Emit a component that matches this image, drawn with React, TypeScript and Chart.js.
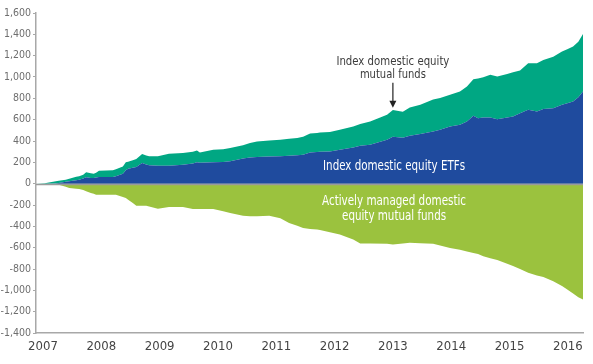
import React, { useEffect, useRef } from "react";
import { Chart, registerables } from "chart.js";

Chart.register(...registerables);

// Decimal-year positions of the readings
const dates = [
  2006.88, 2007.03, 2007.22, 2007.27, 2007.39, 2007.45, 2007.57, 2007.62, 2007.69, 2007.74,
  2007.82, 2007.87, 2007.91, 2007.96, 2008.2, 2008.25, 2008.37, 2008.42, 2008.46, 2008.54,
  2008.6, 2008.7, 2008.77, 2008.82, 2008.97, 2009.16, 2009.4, 2009.57, 2009.64, 2009.69,
  2009.92, 2010.09, 2010.21, 2010.43, 2010.55, 2010.67, 2010.88, 2011.07, 2011.22, 2011.36,
  2011.46, 2011.58, 2011.7, 2011.75, 2011.92, 2012.09, 2012.32, 2012.44, 2012.61, 2012.9,
  2013.0, 2013.17, 2013.29, 2013.47, 2013.69, 2013.81, 2013.98, 2014.15, 2014.27, 2014.38,
  2014.46, 2014.55, 2014.67, 2014.79, 2014.96, 2015.06, 2015.18, 2015.32, 2015.47, 2015.58,
  2015.75, 2015.9, 2015.99, 2016.09, 2016.18, 2016.26,
];

// Index domestic equity ETFs (cumulative flows, $ billions)
const etfFlows = [
  0, 0, 2, 6, 18, 22, 33, 37, 48, 59,
  54, 53, 58, 62, 62, 70, 94, 125, 140, 150,
  156, 193, 180, 172, 168, 168, 178, 190, 200, 196,
  200, 204, 209, 235, 246, 250, 254, 256, 262, 266,
  271, 293, 297, 300, 302, 318, 340, 355, 365, 411,
  440, 430, 450, 465, 490, 505, 536, 552, 583, 636,
  614, 620, 620, 605, 620, 630, 660, 692, 676, 700,
  708, 739, 755, 770, 810, 864,
];

// Index domestic equity mutual funds (cumulative flows, $ billions)
const indexMfFlows = [
  0, 5, 20, 21, 19, 23, 32, 33, 36, 47,
  43, 41, 45, 60, 63, 65, 68, 75, 65, 70,
  75, 85, 85, 84, 90, 113, 109, 110, 112, 97,
  118, 118, 125, 125, 135, 146, 151, 156, 158, 161,
  169, 177, 179, 180, 183, 187, 196, 205, 218, 234,
  250, 244, 265, 274, 300, 297, 297, 312, 327, 343,
  371, 378, 400, 399, 409, 415, 400, 437, 453, 460,
  483, 499, 505, 515, 521, 539,
];

// Actively managed domestic equity mutual funds (cumulative flows, $ billions)
const activeFlows = [
  0, 0, 0, -9, -30, -40, -48, -50, -60, -72,
  -87, -95, -103, -103, -103, -103, -125, -134, -150, -181,
  -206, -206, -206, -215, -234, -218, -218, -237, -237, -237,
  -237, -259, -275, -300, -306, -305, -300, -325, -368, -395,
  -415, -425, -430, -435, -455, -477, -524, -561, -562, -564,
  -570, -560, -555, -558, -564, -580, -602, -620, -637, -649,
  -660, -680, -700, -715, -750, -773, -800, -835, -860, -875,
  -914, -960, -992, -1030, -1065, -1085,
];

const yearTicks = [2007, 2008, 2009, 2010, 2011, 2012, 2013, 2014, 2015, 2016];

const FONT = "'Liberation Sans Narrow', 'DejaVu Sans Condensed', 'Open Sans', sans-serif";

const toPoints = (vals: number[]) => vals.map((v, i) => ({ x: dates[i], y: v }));

const annotationPlugin = {
  id: "annotations",
  afterDatasetsDraw(chart: any) {
    const { ctx, chartArea, scales } = chart;
    const xs = scales.x;
    const ys = scales.y;
    ctx.save();
    // zero line
    const y0 = Math.round(ys.getPixelForValue(0)) + 0.5;
    ctx.strokeStyle = "#9a9a9a";
    ctx.lineWidth = 1.5;
    ctx.beginPath();
    ctx.moveTo(chartArea.left, y0);
    ctx.lineTo(chartArea.right, y0);
    ctx.stroke();

    ctx.textAlign = "center";
    ctx.textBaseline = "middle";
    // Index MF label + arrow
    const ax = xs.getPixelForValue(2013.0);
    ctx.fillStyle = "#3c3c3c";
    ctx.font = `13px ${FONT}`;
    ctx.fillText("Index domestic equity", ax, ys.getPixelForValue(1141), 113);
    ctx.fillText("mutual funds", ax, ys.getPixelForValue(1020), 66);
    const aTop = ys.getPixelForValue(945);
    const aBot = ys.getPixelForValue(711);
    ctx.strokeStyle = "#222";
    ctx.lineWidth = 1.2;
    ctx.beginPath();
    ctx.moveTo(ax, aTop);
    ctx.lineTo(ax, aBot - 5);
    ctx.stroke();
    ctx.fillStyle = "#222";
    ctx.beginPath();
    ctx.moveTo(ax - 3.5, aBot - 7);
    ctx.lineTo(ax + 3.5, aBot - 7);
    ctx.lineTo(ax, aBot);
    ctx.closePath();
    ctx.fill();

    // White in-area labels
    const cx = xs.getPixelForValue(2013.02);
    ctx.fillStyle = "#ffffff";
    ctx.font = `500 14px ${FONT}`;
    ctx.fillText("Index domestic equity ETFs", cx, ys.getPixelForValue(159), 142);
    ctx.fillText("Actively managed domestic", cx, ys.getPixelForValue(-168), 144);
    ctx.fillText("equity mutual funds", cx, ys.getPixelForValue(-309), 104);
    ctx.restore();
  },
};

export default function App() {
  const ref = useRef<HTMLCanvasElement>(null);

  useEffect(() => {
    const canvas = ref.current;
    if (!canvas) return;
    const chart = new Chart(canvas, {
      type: "line",
      data: {
        datasets: [
          {
            label: "Index domestic equity ETFs",
            data: toPoints(etfFlows),
            backgroundColor: "#1f4b9e",
            borderWidth: 0,
            pointRadius: 0,
            fill: "origin",
            stack: "pos",
          },
          {
            label: "Index domestic equity mutual funds",
            data: toPoints(indexMfFlows),
            backgroundColor: "#00a783",
            borderWidth: 0,
            pointRadius: 0,
            fill: "-1",
            stack: "pos",
          },
          {
            label: "Actively managed domestic equity mutual funds",
            data: toPoints(activeFlows),
            backgroundColor: "#9bc23e",
            borderWidth: 0,
            pointRadius: 0,
            fill: "origin",
            stack: "neg",
          },
        ],
      },
      options: {
        responsive: false,
        animation: false,
        layout: { padding: { top: 13, right: 10, left: 0, bottom: 0 } },
        plugins: {
          legend: { display: false },
          tooltip: { enabled: false },
        },
        scales: {
          x: {
            type: "linear",
            min: 2006.88,
            max: 2016.26,
            afterBuildTicks: (axis: any) => {
              axis.ticks = yearTicks.map((v) => ({ value: v }));
            },
            afterFit: (axis: any) => {
              axis.height = 31;
            },
            ticks: {
              callback: (v: any) => String(v),
              color: "#444444",
              font: { family: FONT, size: 13 },
              padding: 6,
              maxRotation: 0,
              autoSkip: false,
            },
            grid: { display: false, drawTicks: false },
            border: { display: true, color: "#a8a8a8", width: 1.5 },
          },
          y: {
            stacked: true,
            min: -1400,
            max: 1600,
            afterFit: (axis: any) => {
              axis.width = 36;
            },
            ticks: {
              stepSize: 200,
              callback: (v: any) => Number(v).toLocaleString("en-US"),
              color: "#6e6e6e",
              font: { family: FONT, size: 10.5 },
              padding: 2,
            },
            grid: {
              display: true,
              drawOnChartArea: false,
              drawTicks: true,
              tickLength: 3,
              color: "#a8a8a8",
            },
            border: { display: true, color: "#a8a8a8", width: 1.5 },
          },
        },
      },
      plugins: [annotationPlugin],
    } as any);
    return () => chart.destroy();
  }, []);

  return (
    <div style={{ position: "fixed", left: 0, top: 0, width: 593, height: 364, background: "#fff" }}>
      <canvas ref={ref} width={593} height={364} style={{ display: "block" }} />
    </div>
  );
}
